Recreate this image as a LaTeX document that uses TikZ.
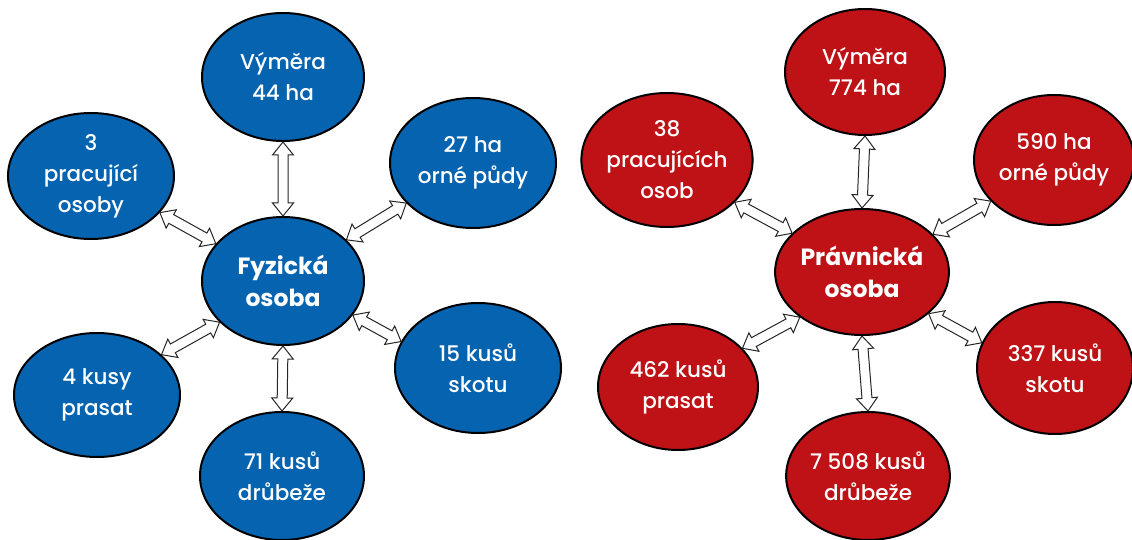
\documentclass[tikz,border=0pt]{standalone}
\usepackage{fontspec}
\setmainfont{Poppins}[UprightFont={* Medium}, BoldFont={* Bold}]
\usetikzlibrary{shapes.geometric,calc}
\definecolor{bl}{RGB}{5,99,176}
\definecolor{rd}{RGB}{190,18,22}
\def\hl{13pt}
\def\hw{10.5pt}
\def\sw{5pt}
\newcommand\harrow[2]{%
  \draw[dblarr] (#1)
   -- ($(#1)!\hl!(#2)!\hw!90:(#2)$)
   -- ($(#1)!\hl!(#2)!\sw!90:(#2)$)
   -- ($(#2)!\hl!(#1)!\sw!-90:(#1)$)
   -- ($(#2)!\hl!(#1)!\hw!-90:(#1)$)
   -- (#2)
   -- ($(#2)!\hl!(#1)!\hw!90:(#1)$)
   -- ($(#2)!\hl!(#1)!\sw!90:(#1)$)
   -- ($(#1)!\hl!(#2)!\sw!-90:(#2)$)
   -- ($(#1)!\hl!(#2)!\hw!-90:(#2)$)
   -- cycle;}
\tikzset{
  ell/.style={ellipse, draw=black, line width=2pt, inner sep=0pt, text=white,
    align=center, font=\fontsize{21.5}{31}\selectfont},
  bell/.style={ell, fill=bl},
  rell/.style={ell, fill=rd},
  ctr/.style={font=\fontsize{23.5}{32}\selectfont\bfseries},
  dblarr/.style={draw=black!85, fill=white, line width=1pt, line join=miter},
}
\begin{document}
\begin{tikzpicture}[x=1pt,y=-1pt]
\useasboundingbox (0,0) rectangle (1132,540);
% left diagram
\node[bell, ctr, minimum width=162, minimum height=128] (c1) at (283,281) {Fyzická\\osoba};
\node[bell, minimum width=162, minimum height=128] (t1) at (283,77) {Výměra\\44 ha};
\node[bell, minimum width=164, minimum height=128] (b1) at (282,476) {71 kusů\\drůbeže};
\node[bell, minimum width=166, minimum height=126] (ul1) at (91,176) {3\\pracující\\osoby};
\node[bell, minimum width=166, minimum height=130] (ur1) at (473,163) {27 ha\\orné půdy};
\node[bell, minimum width=166, minimum height=124] (ll1) at (97,395) {4 kusy\\prasat};
\node[bell, minimum width=166, minimum height=130] (lr1) at (478,368) {15 kusů\\skotu};
% right diagram
\node[rell, ctr, minimum width=164, minimum height=126] (c2) at (862,272) {Právnická\\osoba};
\node[rell, minimum width=160, minimum height=126] (t2) at (865,72) {Výměra\\774 ha};
\node[rell, minimum width=160, minimum height=128] (b2) at (868,476) {7 508 kusů\\drůbeže};
\node[rell, minimum width=164, minimum height=134] (ul2) at (667,160) {38\\pracujících\\osob};
\node[rell, minimum width=160, minimum height=130] (ur2) at (1054,160) {590 ha\\orné půdy};
\node[rell, minimum width=160, minimum height=126] (ll2) at (678,387) {462 kusů\\prasat};
\node[rell, minimum width=156, minimum height=132] (lr2) at (1055,368) {337 kusů\\skotu};
% arrows left
\harrow{t1.south}{c1.north}
\harrow{c1.south}{b1.north}
\harrow{ul1.-28}{c1.151}
\harrow{c1.33}{ur1.211}
\harrow{c1.213}{ll1.32}
\harrow{c1.-26}{lr1.161}
% arrows right
\harrow{t2.south}{c2.north}
\harrow{c2.south}{b2.north}
\harrow{ul2.-32}{c2.151}
\harrow{c2.28}{ur2.213}
\harrow{c2.216}{ll2.31}
\harrow{c2.-32}{lr2.161}
\end{tikzpicture}
\end{document}
